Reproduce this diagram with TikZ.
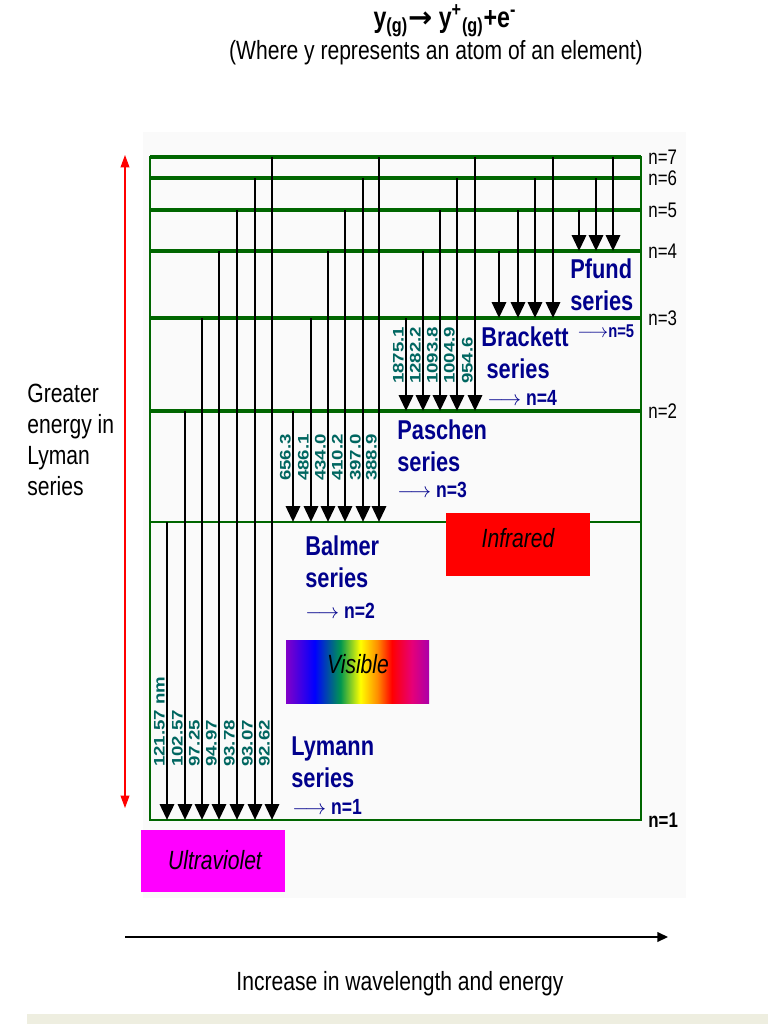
\documentclass[tikz,border=0pt]{standalone}
\usepackage{fontspec}
\setmainfont{Liberation Sans}
\newfontfamily\condfont{Liberation Sans}[FakeStretch=0.8]
\newfontfamily\wavefont{Liberation Sans}[FakeStretch=1.22]
\newfontfamily\symfont{DejaVu Sans}
\usetikzlibrary{arrows.meta}

\definecolor{lvgreen}{RGB}{0,102,0}
\definecolor{waveteal}{RGB}{0,102,96}
\definecolor{serblue}{RGB}{0,0,140}
\definecolor{uvpink}{RGB}{255,0,255}
\definecolor{stripgray}{RGB}{238,238,224}
\definecolor{rbA}{RGB}{130,0,200}
\definecolor{rbG}{RGB}{0,150,80}
\definecolor{rbO}{RGB}{255,140,0}
\definecolor{rbM}{RGB}{230,0,120}
\definecolor{rbP}{RGB}{170,0,170}
\pgfdeclarehorizontalshading{rainbow}{100bp}{color(0bp)=(rbA); color(25bp)=(rbA); color(35bp)=(blue); color(44bp)=(rbG); color(51bp)=(yellow); color(57bp)=(rbO); color(62bp)=(red); color(69bp)=(rbM); color(75bp)=(rbP); color(100bp)=(rbP)}

\tikzset{
  shell/.style={draw=lvgreen, line width=2pt},
  jump/.style={->, line width=1.6pt},
  wavelbl/.style={rotate=90, anchor=south west, inner sep=0.5pt, text=waveteal,
    font=\wavefont\bfseries\fontsize{8.7}{10}\selectfont},
  series/.style={anchor=base west, align=left, inner sep=0pt, text=serblue,
    font=\condfont\bfseries\fontsize{15.5}{18}\selectfont},
  seriesto/.style={anchor=base west, inner sep=0pt, text=serblue,
    font=\condfont\bfseries\fontsize{12.5}{14}\selectfont},
  nlabel/.style={anchor=west, inner sep=0pt, xshift=4pt, font=\condfont\fontsize{12}{14}\selectfont},
  plain/.style={inner sep=0pt, font=\condfont\fontsize{15}{17.6}\selectfont},
  bandtext/.style={plain, anchor=base, font=\condfont\itshape\fontsize{15}{17}\selectfont},
  energyarrow/.style={red, line width=0.6pt, {Triangle[width=5pt,length=7pt]}-{Triangle[width=5pt,length=7pt]}},
  axisarrow/.style={line width=0.8pt, -{Triangle[width=5.5pt,length=6pt]}}
}

\begin{document}
\begin{tikzpicture}[x=0.02cm, y=-0.02cm, >={Triangle[width=8pt,length=9pt]}]
    \useasboundingbox (0,0) rectangle (768,1024);
    \fill[black!2] (143,132) rectangle (686,898);
    \fill[stripgray] (27,1014) rectangle (768,1024);

    \node[plain, anchor=base, font=\condfont\bfseries\fontsize{16.5}{18}\selectfont] (eqn) at (445,28)
        {y\textsubscript{(g)}{\symfont\bfseries →} y\textsuperscript{+}\textsubscript{(g)}+e\textsuperscript{-}};
    \node[plain, anchor=base] (where) at (436,60) {(Where y represents an atom of an element)};

    \coordinate (lev1) at (150,820);
    \coordinate (lev2) at (150,522);
    \coordinate (lev3) at (150,411);
    \coordinate (lev4) at (150,318);
    \coordinate (lev5) at (150,251);
    \coordinate (lev6) at (150,210);
    \coordinate (lev7) at (150,178);
    \coordinate (lev8) at (150,157);
    \coordinate (rgt) at (641,157);

    \draw[shell, line width=1.5pt] (lev8) rectangle (lev1 -| rgt);
    \draw[shell, line width=1.5pt] (lev2) -- (lev2 -| rgt);
    \foreach \l in {lev3,lev4,lev5,lev6,lev7,lev8}
        \draw[shell] (\l) -- (\l -| rgt);

    \foreach \l/\n in {lev8/7, lev7/6, lev6/5, lev5/4, lev4/3, lev3/2}
        \node[nlabel] (n\n) at (\l -| rgt) {n=\n};
    \node[nlabel, font=\condfont\bfseries\fontsize{12}{14}\selectfont] (n1) at (lev1 -| rgt) {n=1};

    \foreach \x/\src/\wl in {167/lev2/121.57 nm, 185/lev3/102.57, 202/lev4/97.25, 219/lev5/94.97,
                             237/lev6/93.78, 255/lev7/93.07, 272/lev8/92.62} {
        \draw[jump] (\x,0 |- \src) -- (\x,0 |- lev1);
        \node[wavelbl] (ly\x) at (\x-1,768) {\wl};
    }
    \foreach \x/\src/\wl in {293/lev3/656.3, 311/lev4/486.1, 328/lev5/434.0,
                             345/lev6/410.2, 363/lev7/397.0, 379/lev8/388.9} {
        \draw[jump] (\x,0 |- \src) -- (\x,0 |- lev2);
        \node[wavelbl] (ba\x) at (\x-1,482) {\wl};
    }
    \foreach \x/\src/\wl in {406/lev4/1875.1, 423/lev5/1282.2, 440/lev6/1093.8,
                             457/lev7/1004.9, 475/lev8/954.6} {
        \draw[jump] (\x,0 |- \src) -- (\x,0 |- lev3);
        \node[wavelbl] (pa\x) at (\x-1,385) {\wl};
    }
    \foreach \x/\src in {499/lev5, 518/lev6, 535/lev7, 553/lev8}
        \draw[jump] (\x,0 |- \src) -- (\x,0 |- lev4);
    \foreach \x/\src in {579/lev6, 596/lev7, 613/lev8}
        \draw[jump] (\x,0 |- \src) -- (\x,0 |- lev5);

    \node[series] (pfund) at (570,310) {Pfund\\series};
    \node[seriesto, font=\condfont\bfseries\fontsize{10.5}{12}\selectfont] (pfundto) at (577,337) {$\longrightarrow$n=5};
    \node[series] (brackett) at (481,378) {Brackett\\\hspace*{3pt}series};
    \node[seriesto] (brackettto) at (487,405) {$\longrightarrow$ n=4};
    \node[series] (paschen) at (397,471) {Paschen\\series};
    \node[seriesto] (paschento) at (397,497) {$\longrightarrow$ n=3};
    \node[series] (balmer) at (305,587) {Balmer\\series};
    \node[seriesto] (balmerto) at (305,618) {$\longrightarrow$ n=2};
    \node[series] (lymann) at (291,787) {Lymann\\series};
    \node[seriesto] (lymannto) at (292,814) {$\longrightarrow$ n=1};

    \fill[red] (446,513) rectangle (590,576);
    \node[bandtext] (ir) at (518,547) {Infrared};
    \shade[shading=rainbow] (286,640) rectangle (429,703);
    \node[bandtext] (vis) at (358,673) {Visible};
    \fill[uvpink] (141,830) rectangle (285,892);
    \node[bandtext] (uv) at (215,869) {Ultraviolet};

    \coordinate (etop) at (125,155);
    \coordinate (ebot) at (125,808);
    \draw[energyarrow] (ebot) -- (etop);
    \node[plain, align=left, anchor=base west] (greater) at (27,495) {Greater\\energy in\\Lyman\\series};

    \coordinate (wl0) at (125,937);
    \coordinate (wl1) at (668,937);
    \draw[axisarrow] (wl0) -- (wl1);
    \node[plain, anchor=base] (incr) at (400,990) {Increase in wavelength and energy};
\end{tikzpicture}
\end{document}
